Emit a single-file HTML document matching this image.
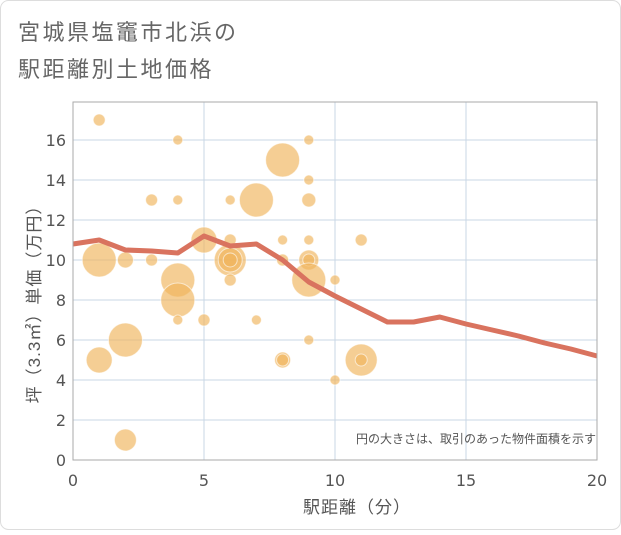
<!DOCTYPE html>
<html><head><meta charset="utf-8"><style>
body{margin:0;background:#fff;}
svg text{font-family:"DejaVu Sans","Noto Sans CJK JP",sans-serif;}
svg text.cjk{font-family:"Liberation Sans","Noto Sans CJK JP",sans-serif;}
</style></head><body>
<svg width="621" height="530">
<rect x="0.5" y="0.5" width="620" height="529" rx="8" fill="#fff" stroke="#ddd"/>
<text class="cjk" x="18" y="40" font-size="22" letter-spacing="2.5" fill="#666">宮城県塩竈市北浜の</text>
<text class="cjk" x="18" y="77" font-size="22" letter-spacing="2.5" fill="#666">駅距離別土地価格</text>
<g id="grid"></g>
<g id="bubbles"></g>
<g id="line"></g>
<rect x="73" y="102" width="524" height="358" fill="none" stroke="#aaa"/>
<g id="axes"></g>
<text class="cjk" x="596" y="443" font-size="12" fill="#555" text-anchor="end">円の大きさは、取引のあった物件面積を示す</text>
<text class="cjk" x="357" y="513" font-size="17" letter-spacing="1" fill="#555" text-anchor="middle">駅距離（分）</text>
<text class="cjk" transform="translate(40,300) rotate(-90)" font-size="17" letter-spacing="1" fill="#555" text-anchor="middle">坪（3.3㎡）単価（万円）</text>
</svg>
<script>
const xTicks=[0,5,10,15,20];
const yTicks=[0,2,4,6,8,10,12,14,16];
const bubX=[1,4,9,8,9,3,4,6,7,9,5,6,9,11,8,1,2,3,6,6,6,8,9,9,9,10,4,6,4,4,5,7,2,9,1,8,8,11,11,10,2];
const bubY=[17,16,16,15,14,13,13,13,13,13,11,11,11,11,11,10,10,10,10,10,10,10,10,10,9,9,9,9,8,7,7,7,6,6,5,5,5,5,5,4,1];
const bubR=[6,5,5,17,5,6,5,5,17,7,13,6,5,6,5,17,8,6,16,12,7,6,10,6,17,5,17,6,17,5,6,5,17,5,13,8,6,16,6,5,11];
const lineX=[0,1,2,3,4,5,6,7,8,9,10,11,12,13,14,15,16,17,18,19,20];
const lineY=[10.8,11,10.5,10.45,10.35,11.2,10.7,10.8,10,8.9,8.2,7.55,6.9,6.9,7.15,6.8,6.5,6.2,5.85,5.55,5.2];
const NS='http://www.w3.org/2000/svg';
const sx=v=>73+v*524/20, sy=v=>460-v*20;
function mk(t,a,p){const e=document.createElementNS(NS,t);for(const k in a)e.setAttribute(k,a[k]);p.appendChild(e);return e;}
const grid=document.getElementById('grid'),axes=document.getElementById('axes');
xTicks.forEach(t=>{
 const l=mk('line',{x1:sx(t),x2:sx(t),y1:102,y2:460,stroke:'#c8d7e6'},grid);
 
 
 const tx=mk('text',{x:sx(t),y:486,'font-size':16,fill:'#555','text-anchor':'middle'},axes);tx.textContent=t;
 
 
});
yTicks.forEach(t=>{
 const l=mk('line',{x1:73,x2:597,y1:sy(t),y2:sy(t),stroke:'#c8d7e6'},grid);
 
 
 const tx=mk('text',{x:66,y:sy(t)+6,'font-size':16,fill:'#555','text-anchor':'end'},axes);tx.textContent=t;
 
 
});
const bg=document.getElementById('bubbles');
bubX.forEach((x,i)=>{
 const c=mk('circle',{cx:sx(x),cy:sy(bubY[i]),r:bubR[i],fill:'rgba(240,180,90,0.65)',stroke:'rgba(255,255,255,0.6)','stroke-width':1},bg);
 
 
});
const pts=lineX.map((x,i)=>sx(x)+','+sy(lineY[i])).join(' ');
const pl=mk('polyline',{points:pts,fill:'none',stroke:'#d9735f','stroke-width':5,'stroke-linejoin':'round'},document.getElementById('line'));


</script>
</body></html>
